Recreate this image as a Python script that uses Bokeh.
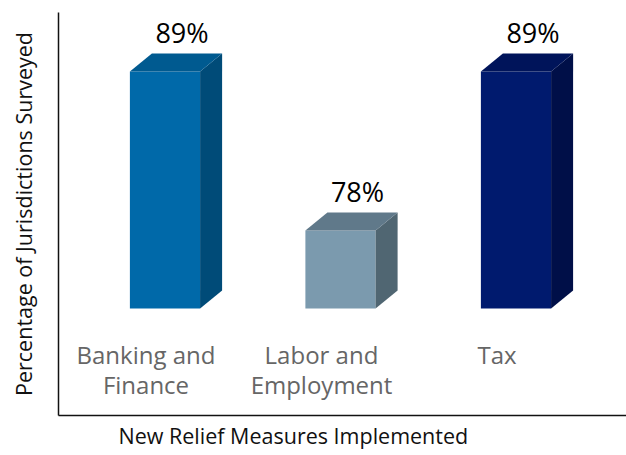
import math
from bokeh.plotting import figure
from bokeh.models import Range1d, FixedTicker, Title
from bokeh.core.properties import value
from bokeh.embed import file_html
from bokeh.resources import INLINE

# ---- data ----
categories = ["Banking and\nFinance", "Labor and\nEmployment", "Tax"]
percentages = [89, 78, 89]
pct_labels = ["89%", "78%", "89%"]
front_colors = ["#0069A9", "#7B9AAE", "#001A6E"]
side_colors = ["#004B78", "#506672", "#000F48"]
top_colors = ["#005A90", "#60798A", "#00145A"]
y_title = "Percentage of Jurisdictions Surveyed"
x_title = "New Relief Measures Implemented"

# ---- styling / geometry ----
BASE = 72.6          # floor of the bars (value axis)
BAR_W = 0.4          # bar width in category units
DX = 0.1254          # 3D depth (x)
DY = 1.245           # 3D depth (y)
FONT = "Open Sans"

xs = list(range(len(categories)))

p = figure(width=626, height=455, output_backend="svg", toolbar_location=None,
           x_range=Range1d(-0.6068, 2.6297), y_range=Range1d(65.2, 93.08),
           min_border_left=58, min_border_right=0, min_border_top=12, min_border_bottom=40)
p.outline_line_color = None
p.grid.visible = False
p.background_fill_color = "white"
p.border_fill_color = "white"

for ax in (p.xaxis[0], p.yaxis[0]):
    ax.ticker = FixedTicker(ticks=[])
    ax.major_tick_line_color = None
    ax.minor_tick_line_color = None
    ax.major_label_text_font_size = "0px"
    ax.major_label_standoff = 0
    ax.axis_line_color = "#111111"
    ax.axis_line_width = 1.5

p.yaxis.axis_label = y_title
p.yaxis.axis_label_standoff = 21
p.yaxis.axis_label_text_font = FONT
p.yaxis.axis_label_text_font_size = "21.5px"
p.yaxis.axis_label_text_font_style = "normal"
p.yaxis.axis_label_text_color = "#111111"

p.add_layout(Title(text=x_title, align="left", offset=60, standoff=6,
                   text_font=FONT, text_font_size="21.5px", text_font_style="normal",
                   text_color="#111111"), "below")

# front faces
lefts = [x - BAR_W / 2 for x in xs]
rights = [x + BAR_W / 2 for x in xs]
p.quad(left=lefts, right=rights, bottom=[BASE] * len(xs), top=percentages,
       fill_color=front_colors, line_color=None)

# side faces
side_x = [[r, r, r + DX, r + DX] for r in rights]
side_y = [[BASE, v, v + DY, BASE + DY] for v in percentages]
p.patches(side_x, side_y, fill_color=side_colors, line_color=None)

# top faces
top_x = [[l, l + DX, r + DX, r] for l, r in zip(lefts, rights)]
top_y = [[v, v + DY, v + DY, v] for v in percentages]
p.patches(top_x, top_y, fill_color=top_colors, line_color=None)

# value labels
p.text(x=xs, y=percentages, text=pct_labels, text_align="center",
       text_baseline="alphabetic", x_offset=17, y_offset=-39,
       text_font=value(FONT), text_font_size="27px", text_color="#000000")

# category labels
p.text(x=xs, y=[BASE] * len(xs), text=categories, text_align="center",
       text_baseline="top", x_offset=-19, y_offset=29, line_height=0.92,
       text_font=value(FONT), text_font_size="24px", text_color="#666666")

open("out.html", "w").write(file_html(p, INLINE))
